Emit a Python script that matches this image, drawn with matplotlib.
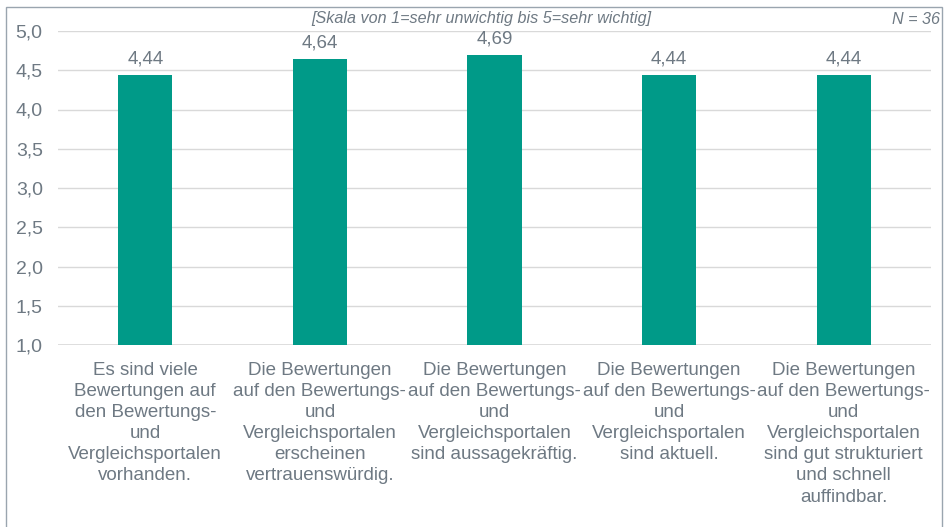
import matplotlib
matplotlib.use('Agg')
import matplotlib.pyplot as plt
from matplotlib.patches import Rectangle

categories = [
    'Es sind viele\nBewertungen auf\nden Bewertungs-\nund\nVergleichsportalen\nvorhanden.',
    'Die Bewertungen\nauf den Bewertungs-\nund\nVergleichsportalen\nerscheinen\nvertrauenswürdig.',
    'Die Bewertungen\nauf den Bewertungs-\nund\nVergleichsportalen\nsind aussagekräftig.',
    'Die Bewertungen\nauf den Bewertungs-\nund\nVergleichsportalen\nsind aktuell.',
    'Die Bewertungen\nauf den Bewertungs-\nund\nVergleichsportalen\nsind gut strukturiert\nund schnell\nauffindbar.',
]
values = [4.44, 4.64, 4.69, 4.44, 4.44]
yticks = [1.0, 1.5, 2.0, 2.5, 3.0, 3.5, 4.0, 4.5, 5.0]
scale_note = '[Skala von 1=sehr unwichtig bis 5=sehr wichtig]'
n_note = 'N = 36'

W, H = 948, 527
text_color = '#6E7983'
bar_color = '#009A88'
fs = 13.5

plt.rcParams['font.family'] = ['Liberation Sans', 'DejaVu Sans']

fig = plt.figure(figsize=(W / 100, H / 100), dpi=100)
# plot area in pixel coords: x 58..931, y 31..345 (from top)
ax = fig.add_axes([58 / W, 1 - 345 / H, (931 - 58) / W, (345 - 31) / H])

x = range(len(values))
ax.bar(x, [v - 1.0 for v in values], bottom=1.0, width=0.31, color=bar_color, zorder=2)
for xi, v in zip(x, values):
    ax.text(xi, v + 0.1, f'{v:.2f}'.replace('.', ','), ha='center', va='bottom',
            fontsize=fs, color=text_color)

ax.set_xlim(-0.5, len(values) - 0.5)
ax.set_ylim(1.0, 5.0)
ax.set_yticks(yticks)
ax.set_yticklabels([f'{t:.1f}'.replace('.', ',') for t in yticks], fontsize=14, color=text_color)
ax.set_xticks(list(x))
ax.set_xticklabels(categories, fontsize=fs, color=text_color, linespacing=1.32)
ax.tick_params(axis='both', length=0)
ax.tick_params(axis='y', pad=11)
ax.tick_params(axis='x', pad=12)
ax.yaxis.grid(True, color='#D9D9D9', linewidth=1, zorder=0)
ax.set_axisbelow(True)
for s in ax.spines.values():
    s.set_visible(False)
ax.axhline(1.0, color='#D9D9D9', linewidth=1.2, zorder=1)

fig.text(481 / W, 1 - 19 / H, scale_note, ha='center', va='center', fontsize=11.6,
         style='italic', color=text_color)
fig.text(940 / W, 1 - 19 / H, n_note, ha='right', va='center', fontsize=11.6,
         style='italic', color=text_color)

fig.patches.append(Rectangle((6 / W, -0.05), (942 - 6) / W, 1 - 7 / H + 0.05,
                             transform=fig.transFigure, fill=False,
                             edgecolor='#9AA5AF', linewidth=1))

fig.savefig('out.png', dpi=100)
